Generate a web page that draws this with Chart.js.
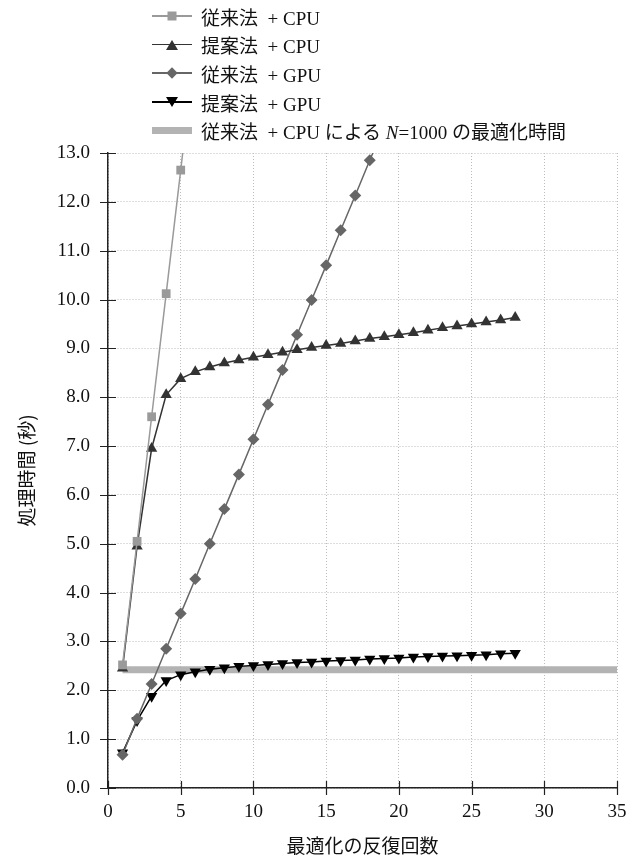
<!DOCTYPE html>
<html>
<head>
<meta charset="utf-8">
<script src="https://cdn.jsdelivr.net/npm/chart.js@4/dist/chart.umd.min.js"></script>
<style>
  html, body { margin: 0; padding: 0; background: #fff; }
  #wrap { position: relative; width: 641px; height: 859px; }
  #legend { position: absolute; left: 152px; top: 2px; font-family: "Liberation Serif", "Noto Sans CJK JP", serif; font-size: 19px; color: #111; }
  .row { height: 28.6px; display: flex; align-items: center; white-space: pre; }
  .sw { position: relative; width: 40px; height: 14px; margin-right: 9px; }
  .sw .ln { position: absolute; left: 0; right: 0; top: 6px; height: 1.5px; }
  .sw .mk { position: absolute; left: 50%; top: 50%; transform: translate(-50%, -50%); }
</style>
</head>
<body>
<div id="wrap">
  <canvas id="chart"></canvas>
  <div id="legend"></div>
</div>
<script>
/* ── Data ── */
const iterations = [1,2,3,4,5,6,7,8,9,10,11,12,13,14,15,16,17,18,19,20,21,22,23,24,25,26,27,28];
const convCpu  = [2.52, 5.05, 7.6, 10.12, 12.65, 15.2];
const propCpu  = [2.45, 4.95, 6.95, 8.05, 8.38, 8.52, 8.62, 8.7, 8.76, 8.82, 8.87, 8.92, 8.97, 9.02,
                  9.06, 9.1, 9.15, 9.2, 9.24, 9.28, 9.32, 9.37, 9.42, 9.46, 9.5, 9.54, 9.58, 9.63];
const convGpu  = [0.68, 1.42, 2.13, 2.85, 3.57, 4.28, 5.0, 5.71, 6.42, 7.14, 7.85, 8.56, 9.28, 9.99,
                  10.7, 11.42, 12.13, 12.85, 13.56];
const propGpu  = [0.72, 1.38, 1.88, 2.2, 2.32, 2.38, 2.43, 2.46, 2.49, 2.51, 2.53, 2.55, 2.57, 2.58,
                  2.6, 2.61, 2.62, 2.64, 2.65, 2.66, 2.68, 2.69, 2.7, 2.71, 2.72, 2.73, 2.75, 2.76];
const refTime  = 2.42;
const refRange = [1, 35];
const seriesLabels = ['従来法  + CPU', '提案法  + CPU', '従来法  + GPU', '提案法  + GPU'];
const yTicks = [0,1,2,3,4,5,6,7,8,9,10,11,12,13];
const xTicks = [0,5,10,15,20,25,30,35];

const pts = arr => arr.map((v, i) => ({ x: iterations[i], y: v }));

const serif = '"Liberation Serif", "Noto Sans CJK JP", serif';
const gothic = '"Noto Sans CJK JP", sans-serif';

/* ── Legend (HTML) ── */
const legendItems = [
  { text: seriesLabels[0], line: '#9a9a9a', mk: 'width:9px;height:9px;background:#9a9a9a;' },
  { text: seriesLabels[1], line: '#333', mk: 'width:0;height:0;border-left:6px solid transparent;border-right:6px solid transparent;border-bottom:10px solid #333;' },
  { text: seriesLabels[2], line: '#666', mk: 'width:8px;height:8px;background:#666;transform:translate(-50%,-50%) rotate(45deg);' },
  { text: seriesLabels[3], line: '#000', mk: 'width:0;height:0;border-left:6px solid transparent;border-right:6px solid transparent;border-top:10px solid #000;' },
  { html: '従来法  + CPU による <i>N</i>=1000 の最適化時間', line: '#b3b3b3', thick: true }
];
const legend = document.getElementById('legend');
legendItems.forEach(it => {
  const row = document.createElement('div');
  row.className = 'row';
  const lnStyle = it.thick ? `background:${it.line};height:7px;top:3.5px;` : `background:${it.line};`;
  row.innerHTML = `<span class="sw"><span class="ln" style="${lnStyle}"></span>` +
    (it.mk ? `<span class="mk" style="${it.mk}"></span>` : '') + `</span>` +
    `<span>${it.html || it.text}</span>`;
  legend.appendChild(row);
});

/* ── Crossing tick marks ── */
const crossTicks = {
  id: 'crossTicks',
  afterDraw(chart) {
    const { ctx, scales: { x, y } } = chart;
    ctx.save();
    ctx.strokeStyle = '#222';
    ctx.lineWidth = 1.2;
    ctx.beginPath();
    y.ticks.forEach(t => {
      const py = Math.round(y.getPixelForValue(t.value)) + 0.5;
      ctx.moveTo(x.left - 8, py); ctx.lineTo(x.left + 8, py);
    });
    x.ticks.forEach(t => {
      const px = Math.round(x.getPixelForValue(t.value)) + 0.5;
      ctx.moveTo(px, y.bottom - 7); ctx.lineTo(px, y.bottom + 7);
    });
    ctx.stroke();
    ctx.restore();
  }
};

const lineSet = (label, data, color, shape, radius, rotation) => ({
  label, data, showLine: true,
  borderColor: color, backgroundColor: color,
  borderWidth: 1.5,
  pointStyle: shape, pointRadius: radius, pointRotation: rotation || 0,
  pointBorderWidth: 0, pointBackgroundColor: color,
  tension: 0, order: 1
});

new Chart(document.getElementById('chart'), {
  type: 'scatter',
  data: {
    datasets: [
      {
        label: '従来法 + CPU による N=1000 の最適化時間',
        data: refRange.map(v => ({ x: v, y: refTime })),
        borderColor: '#b3b3b3', borderWidth: 7, pointRadius: 0, showLine: true, order: 5
      },
      lineSet(seriesLabels[0], pts(convCpu), '#9a9a9a', 'rect', 6.2),
      lineSet(seriesLabels[1], pts(propCpu), '#333333', 'triangle', 6.5),
      lineSet(seriesLabels[2], pts(convGpu), '#666666', 'rectRot', 6),
      lineSet(seriesLabels[3], pts(propGpu), '#000000', 'triangle', 6.5, 180)
    ]
  },
  options: {
    responsive: true,
    maintainAspectRatio: false,
    animation: false,
    layout: { padding: { top: 153, right: 24, left: 0, bottom: 0 } },
    plugins: { legend: { display: false }, tooltip: { enabled: false } },
    scales: {
      x: {
        type: 'linear', min: 0, max: 35,
        afterBuildTicks: s => { s.ticks = xTicks.map(v => ({ value: v })); },
        afterFit: s => { s.height = 71; },
        ticks: { color: '#111', font: { family: serif, size: 19 }, padding: 6 },
        grid: { color: '#bdbdbd', tickColor: 'transparent', tickLength: 7, lineWidth: 1 },
        border: { color: '#222', width: 1.5, dash: [1, 2] },
        title: { display: true, text: '最適化の反復回数', color: '#111', font: { family: gothic, size: 19 }, padding: { top: 0, bottom: 2 } }
      },
      y: {
        type: 'linear', min: 0, max: 13,
        ticks: {
          stepSize: 0.5, color: '#111', font: { family: serif, size: 19 }, padding: 10,
          callback: v => (Number.isInteger(v) && yTicks.includes(v)) ? v.toFixed(1) : ''
        },
        afterFit: s => { s.width = 108; },
        grid: { color: '#bdbdbd', tickColor: 'transparent', tickLength: 8, lineWidth: 1 },
        border: { color: '#222', width: 1.5, dash: [1, 2] },
        title: { display: true, text: '処理時間 (秒)', color: '#111', font: { family: gothic, size: 19 }, padding: { top: 15, bottom: 0 } }
      }
    }
  },
  plugins: [crossTicks]
});
</script>
</body>
</html>
